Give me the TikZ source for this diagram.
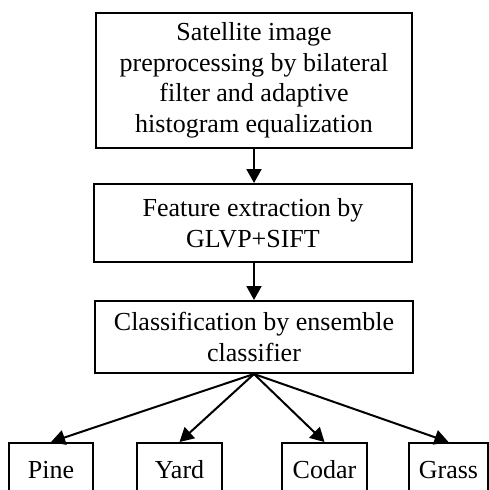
\documentclass[tikz,border=0pt]{standalone}
\usepackage{fontspec}
\setmainfont{Liberation Serif}
\usetikzlibrary{arrows.meta}

\tikzset{
  stagebox/.style={draw, line width=2pt, rectangle, align=center, inner sep=0pt,
    anchor=north, font=\fontsize{26}{30.5}\selectfont},
  classbox/.style={draw, line width=2pt, rectangle, inner sep=0pt, anchor=north,
    minimum height=52pt, text height=18pt, text depth=0pt,
    font=\fontsize{26}{30.5}\selectfont},
  flow/.style={line width=2pt, -{Triangle[length=14pt,width=15pt]}, shorten >=0pt}
}

\begin{document}
\begin{tikzpicture}[x=1pt, y=-1pt]
  \useasboundingbox (0,0) rectangle (489,490);
  \clip (0,0) rectangle (489,490);
  \fill[white] (0,0) rectangle (489,490);

  % processing stages
  \node[stagebox, minimum width=316pt, minimum height=135pt] (pre) at (254,12)
    {Satellite image\\preprocessing by bilateral\\filter and adaptive\\histogram equalization};
  \node[stagebox, minimum width=318pt, minimum height=78pt] (feat) at (253,183)
    {Feature extraction by\\GLVP+SIFT};
  \node[stagebox, minimum width=318pt, minimum height=72pt] (cls) at (254,300)
    {Classification by ensemble\\classifier};

  % output classes
  \node[classbox, minimum width=84pt] (pine)  at (51,442)    {Pine};
  \node[classbox, minimum width=85pt] (yard)  at (179.5,442) {Yard};
  \node[classbox, minimum width=85pt] (codar) at (324.5,442) {Codar};
  \node[classbox, minimum width=79pt] (grass) at (448.5,442) {Grass};

  % connectors
  \draw[flow] (pre.south) -- (feat.north -| pre.south);
  \draw[flow] (feat.south -| cls.north) -- (cls.north);
  \draw[flow] (cls.south) -- (pine.north);
  \draw[flow] (cls.south) -- (yard.north);
  \draw[flow] (cls.south) -- (codar.north);
  \draw[flow] (cls.south) -- (grass.north);
\end{tikzpicture}
\end{document}
